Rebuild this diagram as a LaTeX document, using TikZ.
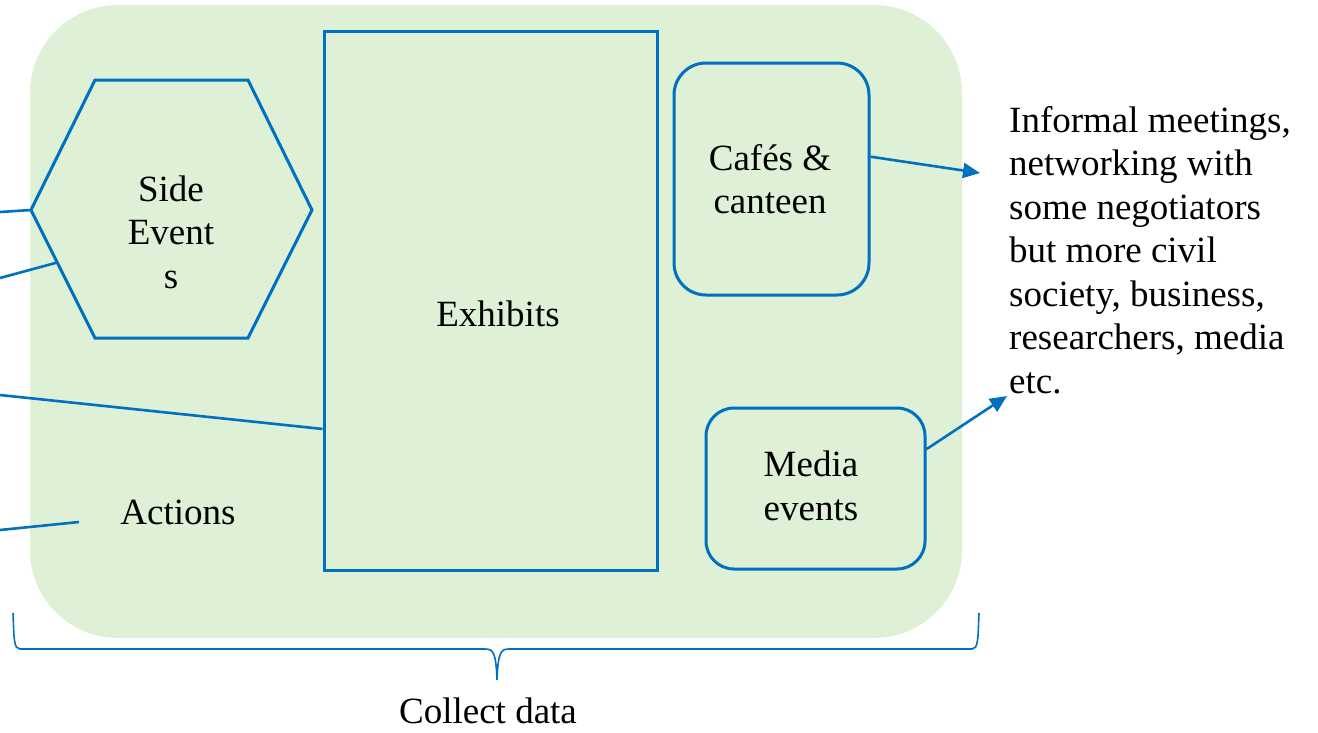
\documentclass[tikz,border=0pt]{standalone}
\usepackage{fontspec}
\setmainfont{Liberation Serif}
\usetikzlibrary{arrows.meta,calc}
\definecolor{bl}{RGB}{0,112,192}
\definecolor{gr}{RGB}{222,240,213}
\tikzset{
  box/.style={draw=bl,line width=3pt,inner sep=0pt},
  conn/.style={draw=bl,line width=2.6pt},
  arr/.style={conn,-{Triangle[length=17pt,width=15pt]}},
  txt/.style={font=\fontsize{37}{43.5}\selectfont,align=center,inner sep=0pt},
}
\begin{document}
\begin{tikzpicture}[x=1pt,y=-1pt]
\useasboundingbox (0,0) rectangle (1318,732);
% background area
\fill[gr,rounded corners=88pt] (30,5) rectangle (962,638);
% hexagon
\coordinate (h1) at (31,210);
\coordinate (h2) at (95,80);
\coordinate (h3) at (248,80);
\coordinate (h4) at (312,210);
\coordinate (h5) at (248,338);
\coordinate (h6) at (95,338);
\draw[box,line join=miter] (h1)--(h2)--(h3)--(h4)--(h5)--(h6)--cycle;
\node[txt] (side) at (171,232) {Side\\Event\\s};
% exhibits
\node[box,minimum width=333pt,minimum height=539pt] (ex) at (490.5,300.5) {};
\node[txt] (extxt) at (498,314) {Exhibits};
% cafes
\node[box,rounded corners=32pt,minimum width=195pt,minimum height=232pt] (caf) at (771.5,179) {};
\node[txt] (caftxt) at (770,179) {Cafés \&\\canteen};
% media
\node[box,rounded corners=28pt,minimum width=219pt,minimum height=161pt] (med) at (815.5,488.5) {};
\node[txt] (medtxt) at (811,486) {Media\\events};
% actions
\node[txt] (act) at (178,512) {Actions};
\coordinate (actend) at (79,522);
% left free ends
\coordinate (l1) at (0,212);
\coordinate (l2) at (0,278);
\coordinate (l3) at (0,395);
\coordinate (l4) at (0,530);
\draw[conn] (l1) -- (h1);
\draw[conn] (l2) -- ($(h1)!0.41!(h6)$);
\draw[conn] (l3) -- ($(ex.north west)!0.737!(ex.south west)$);
\draw[conn] (l4) -- (actend);
% right text
\node[txt,align=left,anchor=north west] (info) at (1009,106)
  {Informal meetings,\\networking with\\some negotiators\\but more civil\\society, business,\\researchers, media\\etc.};
\coordinate (a1) at (980,173);
\coordinate (a2) at (1007,396);
\draw[arr] ($(caf.north east)!0.405!(caf.south east)$) -- (a1);
\draw[arr] ($(med.north east)!0.26!(med.south east)$) -- (a2);
% brace
\draw[bl,line width=1.6pt] (13,613) .. controls (14,640) and (14,649) .. (20,649) -- (485,649)
  .. controls (493,649) and (496,652) .. (497,680)
  .. controls (498,652) and (501,649) .. (509,649) -- (972,649)
  .. controls (978,649) and (978,640) .. (979,613);
\node[txt] (collect) at (488,711) {Collect data};
\end{tikzpicture}
\end{document}
